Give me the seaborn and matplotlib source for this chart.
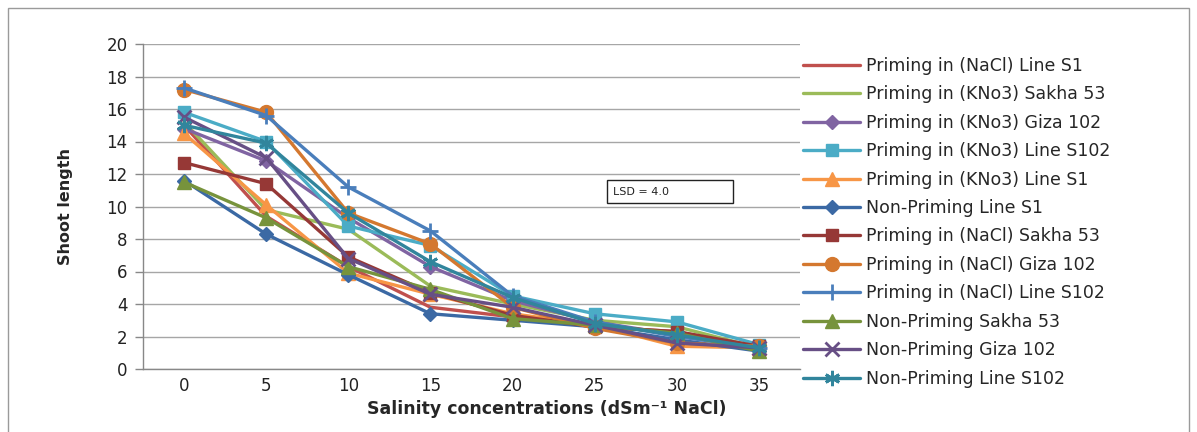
import matplotlib
matplotlib.use("Agg")
import matplotlib.pyplot as plt
from matplotlib.patches import Rectangle
import numpy as np
import pandas as pd
import seaborn as sns

# Salinity levels (dS/m NaCl)
salinity = [0, 5, 10, 15, 20, 25, 30, 35]

# Shoot length per treatment
nacl_line_s1 = [15.0, 9.4, 6.3, 3.8, 3.2, 2.6, 2.3, 1.3]
kno3_sakha53 = [15.2, 9.8, 8.6, 5.1, 4.0, 3.0, 2.6, 1.3]
kno3_giza102 = [14.8, 12.8, 9.3, 6.3, 4.2, 2.9, 2.1, 1.3]
kno3_line_s102 = [15.8, 14.0, 8.8, 7.6, 4.5, 3.4, 2.9, 1.5]
kno3_line_s1 = [14.5, 10.1, 5.9, 4.6, 3.4, 2.7, 1.4, 1.3]
non_line_s1 = [11.6, 8.3, 5.8, 3.4, 3.0, 2.6, 1.8, 1.1]
nacl_sakha53 = [12.7, 11.4, 6.9, 4.7, 3.3, 2.6, 2.3, 1.4]
nacl_giza102 = [17.2, 15.8, 9.6, 7.7, 3.8, 2.5, 1.6, 1.4]
nacl_line_s102 = [17.3, 15.6, 11.2, 8.5, 4.5, 2.9, 2.0, 1.3]
non_sakha53 = [11.5, 9.3, 6.3, 4.9, 3.1, 2.7, 2.2, 1.1]
non_giza102 = [15.5, 13.0, 6.8, 4.6, 3.8, 2.7, 1.6, 1.3]
non_line_s102 = [15.0, 13.9, 9.6, 6.6, 4.4, 2.8, 2.1, 1.3]

series_names = [
    "Priming in (NaCl) Line S1",
    "Priming in (KNo3) Sakha 53",
    "Priming in (KNo3) Giza 102",
    "Priming in (KNo3) Line S102",
    "Priming in (KNo3) Line S1",
    "Non-Priming Line S1",
    "Priming in (NaCl) Sakha 53",
    "Priming in (NaCl) Giza 102",
    "Priming in (NaCl) Line S102",
    "Non-Priming Sakha 53",
    "Non-Priming Giza 102",
    "Non-Priming Line S102",
]
series_values = [
    nacl_line_s1, kno3_sakha53, kno3_giza102, kno3_line_s102, kno3_line_s1,
    non_line_s1, nacl_sakha53, nacl_giza102, nacl_line_s102, non_sakha53,
    non_giza102, non_line_s102,
]

colors = ["#C0504D", "#9BBB59", "#8064A2", "#4BACC6", "#F79646", "#3B69A4",
          "#963836", "#D4782F", "#4A7EBB", "#77933C", "#674F85", "#31859C"]
markers = [None, None, "D", "s", "^", "D", "s", "o", "+", "^", "x", (6, 2, 0)]
msizes = [0, 0, 7, 9, 10, 7, 9, 10, 12, 10, 10, 11]

records = []
for name, vals in zip(series_names, series_values):
    for s, v in zip(salinity, vals):
        records.append({"Salinity": s, "Shoot length": v, "Treatment": name})
df = pd.DataFrame(records)

sns.set_theme(style="white")
plt.rcParams["font.family"] = ["DejaVu Sans"]

fig = plt.figure(figsize=(11.97, 4.32), dpi=100)
ax = fig.add_axes([143 / 1197, 63 / 432, 657 / 1197, 325 / 432])

for name, col, mk, ms in zip(series_names, colors, markers, msizes):
    sub = df[df["Treatment"] == name]
    kw = dict(marker=mk, markersize=ms, markeredgecolor=col,
              markerfacecolor=col, markeredgewidth=2 if mk in ("+", "x", (6, 2, 0)) else 1)
    if mk is None:
        kw = {}
    sns.lineplot(data=sub, x="Salinity", y="Shoot length", ax=ax, color=col,
                 linewidth=2.4, label=name, estimator=None, sort=False, **kw)

ax.set_xlim(-2.5, 37.5)
ax.set_ylim(0, 20)
ax.set_yticks(np.arange(0, 21, 2))
ax.set_xticks(salinity)
ax.set_xticks(np.arange(-2.5, 38, 5), minor=True)
ax.tick_params(axis="x", which="major", length=0, pad=6, labelsize=12, colors="#222222")
ax.tick_params(axis="x", which="minor", length=6, width=1, color="#888888", direction="out")
ax.tick_params(axis="y", which="major", length=6, width=1, color="#888888",
               direction="out", labelsize=12, labelcolor="#222222", left=True, pad=5)
ax.yaxis.grid(True, color="#A6A6A6", linewidth=1)
ax.xaxis.grid(False)
for side in ("top", "right"):
    ax.spines[side].set_visible(False)
for side in ("left", "bottom"):
    ax.spines[side].set_color("#888888")
    ax.spines[side].set_linewidth(1)
ax.set_xlabel("")
ax.set_ylabel("Shoot length", fontsize=11.5, fontweight="bold", labelpad=24,
              family=["Liberation Sans Narrow", "DejaVu Sans"])

fig.text(547 / 1197, 23 / 432, "Salinity concentrations (dSm\u207b\u00b9 NaCl)",
         ha="center", va="center", fontsize=12.5, fontweight="bold")

# LSD annotation box
ax.add_patch(Rectangle((0.706, 0.511), 0.192, 0.0705, transform=ax.transAxes,
                       fill=False, edgecolor="#222222", linewidth=1, clip_on=False))
ax.text(0.716, 0.546, "LSD = 4.0", transform=ax.transAxes, ha="left", va="center",
        fontsize=8, color="#222222")

handles, labels = ax.get_legend_handles_labels()
ax.legend(handles, labels, loc="upper left", bbox_to_anchor=(803 / 1197, 1 - 57 / 432),
          bbox_transform=fig.transFigure, frameon=False, fontsize=12.5,
          handlelength=3.3, labelspacing=0.6, handletextpad=0.3, borderpad=0,
          borderaxespad=0)

# Chart area border
fig.add_artist(Rectangle((8 / 1197, -0.01), 1181 / 1197, 1 - 8 / 432 + 0.01,
                         transform=fig.transFigure, fill=False,
                         edgecolor="#9A9A9A", linewidth=1))

fig.savefig("out.png", dpi=100)
